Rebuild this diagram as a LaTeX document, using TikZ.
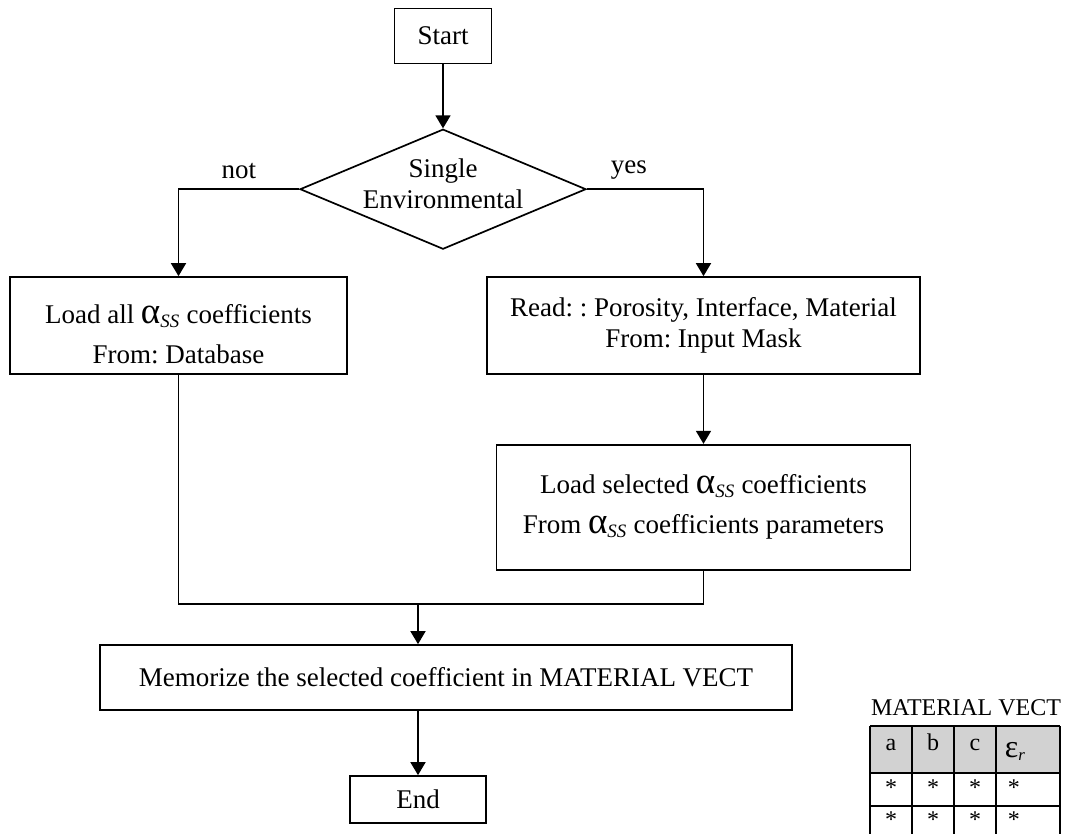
\documentclass[tikz,border=0pt]{standalone}
\usepackage{fontspec}
\setmainfont{Liberation Serif}
\frenchspacing
\usetikzlibrary{arrows.meta, positioning, shapes.geometric, calc}
\newcommand{\alphaSS}{{\fontsize{37}{31}\selectfont α}\textsubscript{\textit{SS}}}
\newcommand{\epsR}{{\fontsize{32}{28}\selectfont ε}\textsubscript{\textit{r}}}
\tikzset{
    flowchart/.style={>={Triangle[width=15pt,length=13pt]}, line width=1.7pt, font=\fontsize{27}{31}\selectfont, x=1pt, y=-1pt},
    block/.style={draw, align=center, inner sep=0pt},
    decision/.style={draw, diamond, aspect=2.38, inner sep=0pt, align=center},
    % table cells of the material vector
    cell/.style={font=\fontsize{24}{28}\selectfont, inner sep=0pt, anchor=base},
}

\begin{document}
\begin{tikzpicture}[flowchart]
        \useasboundingbox (0,0) rectangle (1072,834);

        \node[block, minimum width=97pt, minimum height=55pt]      (start)    at (443,36)      {Start};
        \node[decision, minimum width=286pt, minimum height=120pt, text height=38pt, text depth=0pt, below=64pt of start] (single) {Single\\Environmental};
        \node[block, minimum width=337pt, minimum height=97pt]     (loadall)  at (178.5,325.5) {\rule{0pt}{36pt}Load all \alphaSS{} coefficients\\[9pt]From: Database};
        \node[block, minimum width=433pt, minimum height=97pt]     (readmask) at (703.5,325.5) {Read: : Porosity, Interface, Material\\From: Input Mask};
        \node[block, minimum width=414pt, minimum height=125pt, below=69pt of readmask] (loadsel) {Load selected \alphaSS{} coefficients\\[9pt]From \alphaSS{} coefficients parameters};
        \node[block, minimum width=692pt, minimum height=65pt]     (memo)     at (446,677.5)   {Memorize the selected coefficient in MATERIAL VECT};
        \node[block, minimum width=136pt, minimum height=47pt]     (stop)     at (418,799.5)   {End};
        \coordinate (join) at (418,604);

        \draw[->] (start) -- (single);
        \draw[->] (single) -| node[pos=0.25, above=6pt] {not} (loadall);
        \draw[->] (single) -| node[pos=0.18, above=6pt] {yes} (readmask);
        \draw[->] (readmask) -- (loadsel);

        % both branches meet
        \draw (loadall) |- (join) -| (loadsel);
        \draw[->] (join) -- (join |- memo.north);
        \draw[->] (memo.south -| stop) -- (stop);

        % material vector
        \node[cell, anchor=center] (vectlabel) at (966,708) {MATERIAL VECT};
        \fill[gray!35] (870,726) rectangle (1060,773);
        \foreach \x in {870,912,954,996,1060}
            \draw (\x,726) -- (\x,845);
        \foreach \y in {726,773,806}
            \draw (870,\y) -- (1060,\y);
        \foreach \t/\x in {a/891,b/933,c/975}
            \node[cell] (head\t) at (\x,750) {\t};
        \node[cell, anchor=base west] (headeps) at (1004,757) {\epsR};
        \foreach \r/\y in {1/795,2/827} {
            \foreach \c/\x in {1/891,2/933,3/975}
                \node[cell] (star\r\c) at (\x,\y) {*};
            \node[cell, anchor=base west] (star\r4) at (1007,\y) {*};
        }
    \end{tikzpicture}
\end{document}
